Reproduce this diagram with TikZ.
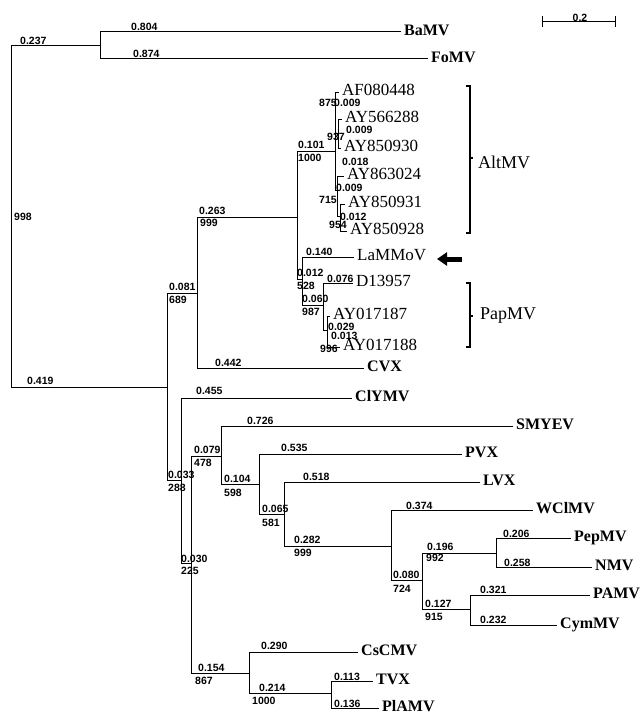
\documentclass[tikz,border=0pt]{standalone}
\usepackage{fontspec}
\setmainfont{Liberation Serif}
\newfontfamily\numfont{Liberation Sans}
\usepackage{tikz}
\usetikzlibrary{arrows.meta}
\tikzset{
    branch/.style={draw, line width=1pt}, % 树枝, 直角连线
    leaf/.style={anchor=west, inner xsep=3pt, inner ysep=0pt, text height=0.7em, text depth=0pt, font=\fontsize{16}{18}\selectfont\bfseries},
    acc/.style={leaf, font=\fontsize{17}{19}\selectfont},
    blen/.style={anchor=west, inner sep=0pt, font=\numfont\bfseries\fontsize{10.5}{12}\selectfont},
    clade/.style={anchor=west, inner sep=0pt, font=\fontsize{18}{20}\selectfont},
    bracket/.style={draw, line width=1.3pt},
    pointer/.style={draw, line width=5pt, -{Triangle[length=10pt,width=13pt]}},
    scalebar/.style={draw, line width=1pt, {Bar[width=11pt]}-{Bar[width=11pt]}}
}

\begin{document}
\begin{tikzpicture}[x=1pt, y=-1pt]
	\useasboundingbox (0,0) rectangle (642,717);

	% internal nodes
	\coordinate (root) at (11,217);
	\coordinate (bafo) at (100,46);
	\coordinate (n2) at (167,387);
	\coordinate (nA) at (197,293);
	\coordinate (nB) at (297,217);
	\coordinate (nF) at (335,151);
	\coordinate (nG) at (338,133);
	\coordinate (nH) at (337,190);
	\coordinate (nI) at (340,216);
	\coordinate (nC) at (302,279);
	\coordinate (nD) at (323,305);
	\coordinate (nE) at (327,330);
	\coordinate (nCl) at (181,480);
	\coordinate (n191) at (191,563);
	\coordinate (n221) at (221,456);
	\coordinate (n259) at (259,484);
	\coordinate (n284) at (284,514);
	\coordinate (n391) at (391,546);
	\coordinate (n422) at (422,580);
	\coordinate (n496) at (496,553);
	\coordinate (n470) at (470,609);
	\coordinate (n249) at (249,673);
	\coordinate (n331) at (331,693);

	% leaves
	\node (bamv) [leaf] at (401,32) {BaMV};
	\node (fomv) [leaf] at (428,59) {FoMV};
	\node (af080448) [acc] at (339,92) {AF080448};
	\node (ay566288) [acc] at (342,119) {AY566288};
	\node (ay850930) [acc] at (341,148) {AY850930};
	\node (ay863024) [acc] at (344,176) {AY863024};
	\node (ay850931) [acc] at (345,204) {AY850931};
	\node (ay850928) [acc] at (347,231) {AY850928};
	\node (lammov) [acc] at (354,257) {LaMMoV};
	\node (d13957) [acc] at (353,283) {D13957};
	\node (ay017187) [acc] at (330,316) {AY017187};
	\node (ay017188) [acc] at (340,347) {AY017188};
	\node (cvx) [leaf] at (364,368) {CVX};
	\node (clymv) [leaf] at (352,398) {ClYMV};
	\node (smyev) [leaf] at (513,426) {SMYEV};
	\node (pvx) [leaf] at (462,454) {PVX};
	\node (lvx) [leaf] at (480,482) {LVX};
	\node (wclmv) [leaf] at (533,510) {WClMV};
	\node (pepmv) [leaf] at (571,538) {PepMV};
	\node (nmv) [leaf] at (592,567) {NMV};
	\node (pamv) [leaf] at (590,595) {PAMV};
	\node (cymmv) [leaf] at (557,625) {CymMV};
	\node (cscmv) [leaf] at (358,652) {CsCMV};
	\node (tvx) [leaf] at (373,681) {TVX};
	\node (plamv) [leaf] at (379,708) {PlAMV};

	% branches
	\draw[branch] (root) |- (bafo);
	\draw[branch] (root) |- (n2);
	\draw[branch] (bafo) |- (bamv);
	\draw[branch] (bafo) |- (fomv);
	\draw[branch] (n2) |- (nA);
	\draw[branch] (n2) |- (nCl);
	\draw[branch] (nA) |- (nB);
	\draw[branch] (nA) |- (cvx);
	\draw[branch] (nB) |- (nF);
	\draw[branch] (nB) |- (nC);
	\draw[branch] (nF) |- (af080448);
	\draw[branch] (nF) |- (nG);
	\draw[branch] (nF) |- (nH);
	\draw[branch] (nG) |- (ay566288);
	\draw[branch] (nG) |- (ay850930);
	\draw[branch] (nH) |- (ay863024);
	\draw[branch] (nH) |- (nI);
	\draw[branch] (nI) |- (ay850931);
	\draw[branch] (nI) |- (ay850928);
	\draw[branch] (nC) |- (lammov);
	\draw[branch] (nC) |- (nD);
	\draw[branch] (nD) |- (d13957);
	\draw[branch] (nD) |- (nE);
	\draw[branch] (nE) |- (ay017187);
	\draw[branch] (nE) |- (ay017188);
	\draw[branch] (nCl) |- (clymv);
	\draw[branch] (nCl) |- (n191);
	\draw[branch] (n191) |- (n221);
	\draw[branch] (n191) |- (n249);
	\draw[branch] (n221) |- (smyev);
	\draw[branch] (n221) |- (n259);
	\draw[branch] (n259) |- (pvx);
	\draw[branch] (n259) |- (n284);
	\draw[branch] (n284) |- (lvx);
	\draw[branch] (n284) |- (n391);
	\draw[branch] (n391) |- (wclmv);
	\draw[branch] (n391) |- (n422);
	\draw[branch] (n422) |- (n496);
	\draw[branch] (n422) |- (n470);
	\draw[branch] (n496) |- (pepmv);
	\draw[branch] (n496) |- (nmv);
	\draw[branch] (n470) |- (pamv);
	\draw[branch] (n470) |- (cymmv);
	\draw[branch] (n249) |- (cscmv);
	\draw[branch] (n249) |- (n331);
	\draw[branch] (n331) |- (tvx);
	\draw[branch] (n331) |- (plamv);

	% branch lengths and bootstrap values
	\node (l-bafo) [blen] at (20,41) {0.237};
	\node (b-root) [blen] at (14,217) {998};
	\node (l-n2) [blen] at (27,381) {0.419};
	\node (l-bamv) [blen] at (131,27) {0.804};
	\node (l-fomv) [blen] at (133,54) {0.874};
	\node (l-nA) [blen] at (169,287) {0.081};
	\node (b-nA) [blen] at (169,300) {689};
	\node (l-nB) [blen] at (199,211) {0.263};
	\node (b-nB) [blen] at (200,223) {999};
	\node (l-cvx) [blen] at (215,363) {0.442};
	\node (l-nF) [blen] at (298,145) {0.101};
	\node (b-nF) [blen] at (298,158) {1000};
	\node (b-af) [blen] at (319,103) {875};
	\node (l-af) [blen] at (334,103) {0.009};
	\node (l-nG) [blen] at (346,130) {0.009};
	\node (b-nG) [blen] at (327,137) {937};
	\node (l-ay863) [blen] at (342,162) {0.018};
	\node (l-nH) [blen] at (336,188) {0.009};
	\node (b-nH) [blen] at (319,200) {715};
	\node (l-nI) [blen] at (340,217) {0.012};
	\node (b-nI) [blen] at (329,225) {954};
	\node (l-lammov) [blen] at (306,252) {0.140};
	\node (l-nC) [blen] at (297,273) {0.012};
	\node (b-nC) [blen] at (297,286) {528};
	\node (l-d13957) [blen] at (327,279) {0.076};
	\node (l-nD) [blen] at (302,299) {0.060};
	\node (b-nD) [blen] at (302,312) {987};
	\node (l-ay187) [blen] at (328,327) {0.029};
	\node (l-ay188) [blen] at (331,336) {0.013};
	\node (b-nE) [blen] at (320,349) {996};
	\node (l-clymv) [blen] at (196,391) {0.455};
	\node (l-nCl) [blen] at (168,475) {0.033};
	\node (b-nCl) [blen] at (168,488) {288};
	\node (l-n191) [blen] at (181,559) {0.030};
	\node (b-n191) [blen] at (181,571) {225};
	\node (l-n221) [blen] at (194,450) {0.079};
	\node (b-n221) [blen] at (194,463) {478};
	\node (l-smyev) [blen] at (247,421) {0.726};
	\node (l-n259) [blen] at (224,479) {0.104};
	\node (b-n259) [blen] at (224,493) {598};
	\node (l-pvx) [blen] at (281,448) {0.535};
	\node (l-n284) [blen] at (262,509) {0.065};
	\node (b-n284) [blen] at (262,523) {581};
	\node (l-lvx) [blen] at (303,477) {0.518};
	\node (l-n391) [blen] at (294,540) {0.282};
	\node (b-n391) [blen] at (294,553) {999};
	\node (l-wclmv) [blen] at (406,506) {0.374};
	\node (l-n422) [blen] at (393,575) {0.080};
	\node (b-n422) [blen] at (393,589) {724};
	\node (l-n496) [blen] at (427,547) {0.196};
	\node (b-n496) [blen] at (426,558) {992};
	\node (l-pepmv) [blen] at (503,534) {0.206};
	\node (l-nmv) [blen] at (504,563) {0.258};
	\node (l-n470) [blen] at (425,604) {0.127};
	\node (b-n470) [blen] at (425,617) {915};
	\node (l-pamv) [blen] at (480,590) {0.321};
	\node (l-cymmv) [blen] at (480,620) {0.232};
	\node (l-n249) [blen] at (198,668) {0.154};
	\node (b-n249) [blen] at (195,681) {867};
	\node (l-cscmv) [blen] at (261,646) {0.290};
	\node (l-n331) [blen] at (259,688) {0.214};
	\node (b-n331) [blen] at (252,701) {1000};
	\node (l-tvx) [blen] at (334,677) {0.113};
	\node (l-plamv) [blen] at (334,704) {0.136};

	% clades
	\node (altmv) [clade] at (478,162) {AltMV};
	\node (papmv) [clade] at (480,316) {PapMV};
	\draw[bracket] (466,86) -- (470,86) -- (470,233) -- (466,233);
	\draw[bracket] (470,158) -- (473,158);
	\draw[bracket] (466,283) -- (470,283) -- (470,347) -- (466,347);
	\draw[bracket] (470,316) -- (473,316);

	% LaMMoV pointer
	\coordinate (arrtail) at (462,259);
	\coordinate (arrhead) at (437,259);
	\draw[pointer] (arrtail) -- (arrhead);

	% scale bar
	\coordinate (sb-l) at (542,22);
	\coordinate (sb-r) at (616,22);
	\draw[scalebar] (sb-l) -- (sb-r);
	\node (sb-txt) [blen, anchor=south] at (580,22) {0.2};
\end{tikzpicture}
\end{document}
